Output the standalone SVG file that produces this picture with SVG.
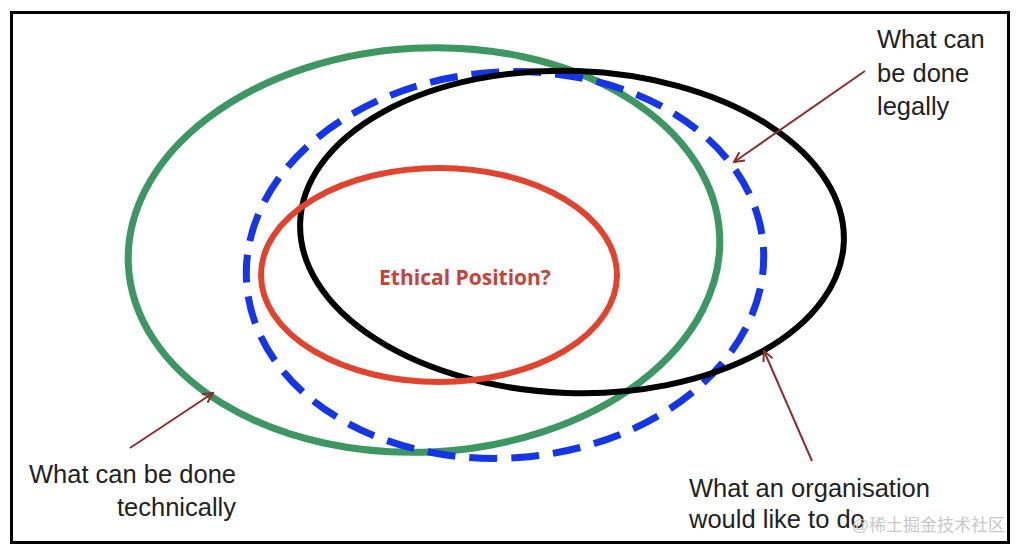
<svg xmlns="http://www.w3.org/2000/svg" width="1024" height="555" viewBox="0 0 1024 555">
<defs>
<style>
.lbl{font-family:"Liberation Sans","Noto Sans",Arial,sans-serif;font-size:25.5px;fill:#222;}
.eth{font-family:"Open Sans","Liberation Sans",sans-serif;font-size:21px;font-weight:bold;fill:#c8413a;}
.arr{stroke:#8b2e2e;stroke-width:2;fill:none;marker-end:url(#ah);}
.wm{font-family:"Liberation Sans","Noto Sans CJK SC",sans-serif;font-size:17px;fill:#c8c8c8;}
</style>
<marker id="ah" viewBox="0 0 12 12" refX="11" refY="6" markerWidth="12" markerHeight="12" markerUnits="userSpaceOnUse" orient="auto">
<path d="M1,1 L11,6 L1,11" fill="none" stroke="#8b2e2e" stroke-width="2"/>
</marker>
</defs>
<rect x="0" y="0" width="1024" height="555" fill="#fff"/>
<rect id="frame" x="11.5" y="12.5" width="997" height="530" fill="none" stroke="#000" stroke-width="3"/>
<g id="technical"><ellipse cx="424" cy="250" rx="296" ry="202" transform="rotate(-3 424 250)" fill="none" stroke="#3d9762" stroke-width="7"/></g>
<g id="organisation"><ellipse cx="505" cy="265" rx="259" ry="193" transform="rotate(-4 505 265)" fill="none" stroke="#1536e6" stroke-width="7" stroke-dasharray="28 14"/></g>
<g id="legal"><ellipse cx="572" cy="232" rx="272" ry="161" transform="rotate(2 572 232)" fill="none" stroke="#000" stroke-width="6"/></g>
<g id="ethical"><ellipse cx="439" cy="275" rx="178" ry="107" fill="none" stroke="#e0442e" stroke-width="6"/>
<text class="eth" x="465" y="285" text-anchor="middle">Ethical Position?</text></g>
<g id="connectors">
<line class="arr" x1="865" y1="71" x2="734" y2="162"/>
<line class="arr" x1="130" y1="448" x2="213" y2="393"/>
<line class="arr" x1="812" y1="461" x2="764" y2="351"/>
</g>
<g id="label-legal"><text class="lbl" x="877" y="48">What can</text><text class="lbl" x="877" y="82">be done</text><text class="lbl" x="877" y="115">legally</text></g>
<g id="label-technical"><text class="lbl" x="236" y="483" text-anchor="end">What can be done</text><text class="lbl" x="236" y="516" text-anchor="end">technically</text></g>
<g id="label-org"><text class="lbl" x="689" y="497">What an organisation</text><text class="lbl" x="689" y="528">would like to do</text></g>
<text class="wm" x="1005" y="531" text-anchor="end">@稀土掘金技术社区</text>
</svg>
